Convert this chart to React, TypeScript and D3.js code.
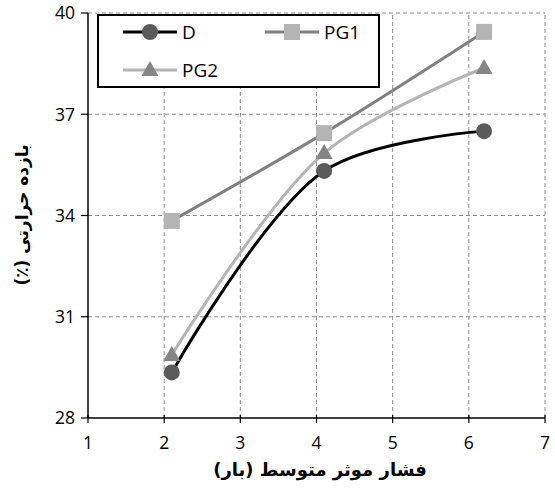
import React from "react";
import * as d3 from "d3";

const xValues = [2.1, 4.1, 6.2];
const seriesD = [29.35, 35.32, 36.5];
const seriesPG1 = [33.84, 36.44, 39.44];
const seriesPG2 = [29.87, 35.85, 38.37];
const xTicks = [1, 2, 3, 4, 5, 6, 7];
const yTicks = [28, 31, 34, 37, 40];

const series = [
  { name: "D", values: seriesD, line: "#000000", marker: "#5a5a5a", shape: "circle" },
  { name: "PG1", values: seriesPG1, line: "#808080", marker: "#b4b4b4", shape: "square" },
  { name: "PG2", values: seriesPG2, line: "#b4b4b4", marker: "#858585", shape: "triangle" },
];

const W = 555;
const H = 495;
const margin = { top: 13, right: 10, bottom: 77, left: 88 };

function Marker({ shape, x, y, fill }: { shape: string; x: number; y: number; fill: string }) {
  if (shape === "circle") return <circle cx={x} cy={y} r={8} fill={fill} />;
  if (shape === "square") return <rect x={x - 8} y={y - 8} width={16} height={16} fill={fill} />;
  return <path d={`M${x},${y - 9}L${x + 8.5},${y + 6}L${x - 8.5},${y + 6}Z`} fill={fill} />;
}

export default function App() {
  const x = d3.scaleLinear().domain([1, 7]).range([margin.left, W - margin.right]);
  const y = d3.scaleLinear().domain([28, 40]).range([H - margin.bottom, margin.top]);
  const line = d3
    .line<[number, number]>()
    .x((d) => x(d[0]))
    .y((d) => y(d[1]))
    .curve(d3.curveCatmullRom.alpha(0.5));

  const font = "'Open Sans', 'DejaVu Sans', sans-serif";
  const arabicFont = "'DejaVu Sans', sans-serif";

  return (
    <svg width={W} height={H} style={{ position: "absolute", left: 0, top: 0, background: "#fff" }}>
      {/* grid */}
      {xTicks.slice(1).map((t) => (
        <line key={"gx" + t} x1={x(t)} x2={x(t)} y1={y(28)} y2={y(40)} stroke="#8c8c8c" strokeDasharray="4,3" strokeWidth={1} />
      ))}
      {yTicks.slice(1).map((t) => (
        <line key={"gy" + t} x1={x(1)} x2={x(7)} y1={y(t)} y2={y(t)} stroke="#8c8c8c" strokeDasharray="4,3" strokeWidth={1} />
      ))}

      {/* axes */}
      <line x1={x(1)} x2={x(1)} y1={y(28)} y2={y(40)} stroke="#000" strokeWidth={1.5} />
      <line x1={x(1)} x2={x(7)} y1={y(28)} y2={y(28)} stroke="#000" strokeWidth={1.5} />
      {yTicks.map((t) => (
        <g key={"yt" + t}>
          <line x1={x(1) - 7} x2={x(1)} y1={y(t)} y2={y(t)} stroke="#000" strokeWidth={1.2} />
          <text x={x(1) - 13} y={y(t)} dy="0.36em" textAnchor="end" fontFamily={font} fontSize={17.5}>
            {t}
          </text>
        </g>
      ))}
      {xTicks.map((t) => (
        <g key={"xt" + t}>
          <line x1={x(t)} x2={x(t)} y1={y(28) - 3} y2={y(28) + 5} stroke="#000" strokeWidth={1.2} />
          <text x={x(t)} y={y(28) + 31} textAnchor="middle" fontFamily={font} fontSize={17.5}>
            {t}
          </text>
        </g>
      ))}

      {/* series */}
      {series.map((s) => (
        <path
          key={"l" + s.name}
          d={line(xValues.map((v, i) => [v, s.values[i]] as [number, number])) || ""}
          fill="none"
          stroke={s.line}
          strokeWidth={3}
        />
      ))}
      {series.map((s) =>
        xValues.map((v, i) => (
          <Marker key={s.name + i} shape={s.shape} x={x(v)} y={y(s.values[i])} fill={s.marker} />
        ))
      )}

      {/* legend */}
      <rect x={98} y={15} width={281} height={72} fill="#fff" stroke="#000" strokeWidth={2} />
      {[
        { s: series[0], lx: 123, ly: 32 },
        { s: series[1], lx: 265, ly: 32 },
        { s: series[2], lx: 123, ly: 70 },
      ].map(({ s, lx, ly }) => (
        <g key={"lg" + s.name}>
          <line x1={lx} x2={lx + 54} y1={ly} y2={ly} stroke={s.line} strokeWidth={3} />
          <Marker shape={s.shape} x={lx + 27} y={ly} fill={s.marker} />
          <text x={lx + 59} y={ly} dy="0.36em" fontFamily={font} fontSize={19}>
            {s.name}
          </text>
        </g>
      ))}

      {/* titles */}
      <text x={320} y={476} textAnchor="middle" fontFamily={arabicFont} fontWeight="bold" fontSize={18} direction="rtl">
        فشار موثر متوسط (بار)
      </text>
      <text
        transform="translate(28,215) rotate(-90)"
        textAnchor="middle"
        fontFamily={arabicFont}
        fontWeight="bold"
        fontSize={17}
        direction="rtl"
      >
        بازده حرارتی (٪)
      </text>
    </svg>
  );
}
